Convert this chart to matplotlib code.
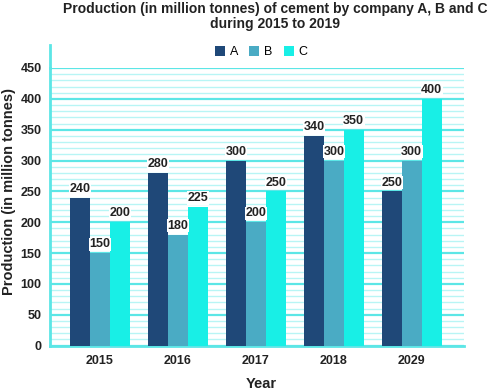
import matplotlib.pyplot as plt
import numpy as np
from matplotlib.ticker import MultipleLocator

# data
years = ['2015', '2016', '2017', '2018', '2029']
prod_a = [240, 280, 300, 340, 250]
prod_b = [150, 180, 200, 300, 300]
prod_c = [200, 225, 250, 350, 400]

COL_A = '#1f4878'
COL_B = '#4aabc4'
COL_C = '#18efe6'
GRID_MAJOR = '#5ce6e6'
GRID_MINOR = '#b8f5f5'
TXT = '#222222'

plt.rcParams['font.family'] = ['Liberation Sans', 'DejaVu Sans']

fig = plt.figure(figsize=(4.92, 3.90), dpi=100)
ax = fig.add_axes([50/492, 1 - 345.5/390, 414/492, 277.5/390])

x = np.arange(len(years))
w = 0.256
for off, vals, col, lab in [(-w, prod_a, COL_A, 'A'), (0, prod_b, COL_B, 'B'), (w, prod_c, COL_C, 'C')]:
    b = ax.bar(x + off, vals, w, color=col, label=lab, zorder=3)
    for rect, v in zip(b, vals):
        ax.annotate(f'{v}', xy=(rect.get_x() + rect.get_width() / 2, v),
                    xytext=(0, 2), textcoords='offset points',
                    ha='center', va='bottom', fontsize=9, fontweight='bold',
                    color=TXT, zorder=4,
                    bbox=dict(boxstyle='square,pad=0.05', fc='white', ec='none'))

ax.set_xlim(-0.64, 4.67)
ax.set_ylim(0, 450)
ax.yaxis.set_major_locator(MultipleLocator(50))
ax.yaxis.set_minor_locator(MultipleLocator(10))
ax.grid(which='major', axis='y', color=GRID_MAJOR, linewidth=1.6, zorder=0)
ax.grid(which='minor', axis='y', color=GRID_MINOR, linewidth=1.0, zorder=0)
ax.set_axisbelow(True)

ax.set_xticks(x)
ax.set_xticklabels(years)
ax.tick_params(axis='both', which='both', length=0, labelsize=9, colors=TXT)
ax.tick_params(axis='x', pad=7)
ax.tick_params(axis='y', pad=6)
for lab in ax.get_xticklabels() + ax.get_yticklabels():
    lab.set_fontweight('bold')

for s in ['top', 'right']:
    ax.spines[s].set_visible(False)
ax.spines['left'].set_color(GRID_MAJOR)
ax.spines['left'].set_linewidth(2)
ax.spines['bottom'].set_color(GRID_MAJOR)
ax.spines['bottom'].set_linewidth(2)
# left spine extends above the plot
ax.plot([0, 0], [1, 1.083], transform=ax.transAxes, color=GRID_MAJOR, lw=2, clip_on=False)

ax.set_ylabel('Production (in million tonnes)', fontsize=10.5, fontweight='bold', color=TXT)
ax.yaxis.set_label_coords(-0.082, 0.556)
ax.set_xlabel('Year', fontsize=10.5, fontweight='bold', color=TXT)
ax.xaxis.set_label_coords(0.51, -0.115)

fig.text(275/492, 1 - 2/390, 'Production (in million tonnes) of cement by company A, B and C\nduring 2015 to 2019',
         ha='center', va='top', fontsize=10, fontweight='bold', color=TXT, linespacing=1.1)

ax.legend(loc='lower center', bbox_to_anchor=(0.51, 0.995), ncol=3, frameon=False,
          fontsize=9, handlelength=0.8, handleheight=0.8, columnspacing=0.9, handletextpad=0.4)

plt.savefig('out.png', dpi=100, facecolor='white')
